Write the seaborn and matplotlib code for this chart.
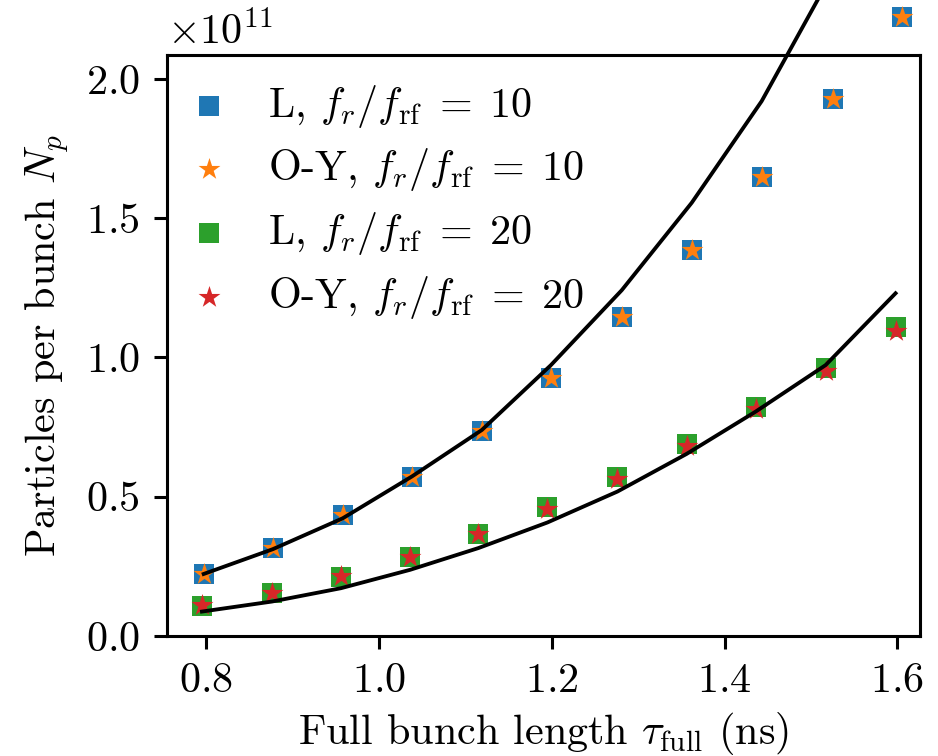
import numpy as np
import matplotlib
matplotlib.use("Agg")
import matplotlib.pyplot as plt
import seaborn as sns

# bunch length (ns) for the two ratios
tau_10 = [0.797, 0.877, 0.958, 1.038, 1.119, 1.199, 1.281, 1.362, 1.443, 1.525, 1.606]
tau_20 = [0.795, 0.876, 0.956, 1.036, 1.115, 1.195, 1.276, 1.356, 1.436, 1.517, 1.598]

# particles per bunch, units of 1e11
L_10 = [0.222, 0.317, 0.432, 0.570, 0.735, 0.926, 1.146, 1.385, 1.648, 1.928, 2.222]
OY_10 = [0.222, 0.317, 0.432, 0.570, 0.735, 0.926, 1.146, 1.385, 1.648, 1.928, 2.222]
L_20 = [0.108, 0.155, 0.212, 0.283, 0.364, 0.461, 0.570, 0.690, 0.822, 0.963, 1.110]
OY_20 = [0.110, 0.155, 0.213, 0.282, 0.364, 0.456, 0.563, 0.683, 0.813, 0.951, 1.094]

# analytic curves
fit_10 = [0.222, 0.311, 0.422, 0.572, 0.739, 0.972, 1.241, 1.555, 1.920, 2.380, 2.900]
fit_20 = [0.087, 0.123, 0.171, 0.237, 0.315, 0.407, 0.518, 0.653, 0.805, 0.972, 1.230]

plt.rcParams['font.family'] = 'serif'
plt.rcParams['font.serif'] = ['cmr10']
plt.rcParams['mathtext.fontset'] = 'cm'
plt.rcParams['axes.formatter.use_mathtext'] = True
plt.rcParams['font.size'] = 11

fig = plt.figure(figsize=(938/276, 756/276), dpi=276)
ax = fig.add_axes([0.178, 0.159, 0.803, 0.768])

E = 1e11
cols = sns.color_palette("tab10")
sns.scatterplot(x=tau_10, y=np.array(L_10)*E, marker='s', s=28, color=cols[0], linewidth=0,
                clip_on=False, label=r'L, $f_r/f_\mathrm{rf}\;=\;10$', ax=ax)
sns.scatterplot(x=tau_10, y=np.array(OY_10)*E, marker='*', s=36, color=cols[1], linewidth=0,
                clip_on=False, label=r'O-Y, $f_r/f_\mathrm{rf}\;=\;10$', ax=ax)
sns.scatterplot(x=tau_20, y=np.array(L_20)*E, marker='s', s=28, color=cols[2], linewidth=0,
                clip_on=False, label=r'L, $f_r/f_\mathrm{rf}\;=\;20$', ax=ax)
sns.scatterplot(x=tau_20, y=np.array(OY_20)*E, marker='*', s=36, color=cols[3], linewidth=0,
                clip_on=False, label=r'O-Y, $f_r/f_\mathrm{rf}\;=\;20$', ax=ax)
sns.lineplot(x=tau_10, y=np.array(fit_10)*E, color='k', lw=1, clip_on=False, ax=ax, zorder=5)
sns.lineplot(x=tau_20, y=np.array(fit_20)*E, color='k', lw=1, clip_on=False, ax=ax, zorder=5)

ax.set_xlim(0.7545, 1.6265)
ax.set_ylim(0, 2.085*E)
ax.set_xticks([0.8, 1.0, 1.2, 1.4, 1.6])
ax.set_yticks(np.array([0, 0.5, 1.0, 1.5, 2.0])*E)
ax.set_xlabel(r'Full bunch length $\tau_\mathrm{full}$ (ns)', labelpad=2.5)
ax.set_ylabel(r'Particles per bunch $N_p$')
ax.legend(loc='upper left', frameon=False, handlelength=0.7, handletextpad=1.05,
          labelspacing=0.4, borderaxespad=0.25)

plt.savefig("out.png", dpi=276)
